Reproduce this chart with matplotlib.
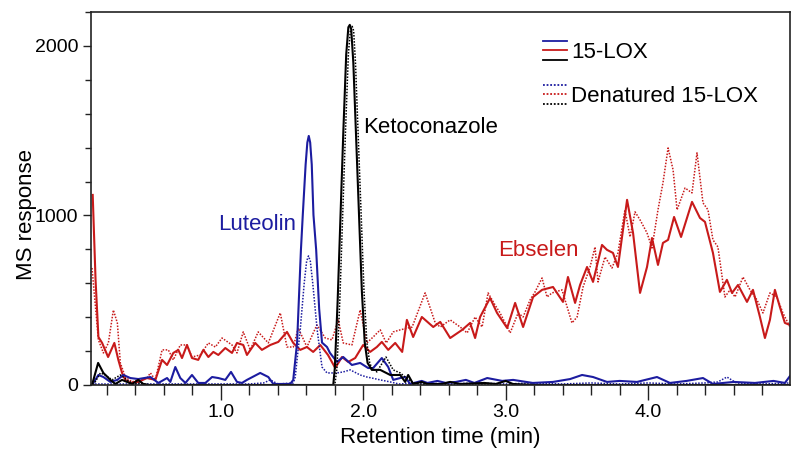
import matplotlib
matplotlib.use("Agg")
import matplotlib.pyplot as plt
from matplotlib.legend_handler import HandlerBase
from matplotlib.lines import Line2D
from matplotlib.ticker import MultipleLocator, FormatStrFormatter

plt.rcParams['font.family'] = ['Liberation Sans', 'DejaVu Sans']

# retention time (min) / MS response
lox_ebselen_t = [0.10, 0.12, 0.14, 0.166, 0.208, 0.252, 0.28, 0.306, 0.329, 0.364, 0.42, 0.481, 0.54, 0.587,
                 0.622, 0.666, 0.701, 0.727, 0.762, 0.797, 0.841, 0.877, 0.912, 0.947, 0.982, 1.031, 1.078,
                 1.113, 1.157, 1.183, 1.241, 1.288, 1.347, 1.403, 1.464, 1.508, 1.557, 1.604, 1.648, 1.698,
                 1.752, 1.803, 1.85, 1.894, 1.943, 1.999, 2.048, 2.095, 2.13, 2.175, 2.224, 2.273, 2.306,
                 2.35, 2.411, 2.491, 2.54, 2.61, 2.694, 2.75, 2.785, 2.82, 2.89, 2.939, 3.01, 3.066, 3.122,
                 3.192, 3.255, 3.332, 3.402, 3.437, 3.487, 3.522, 3.571, 3.613, 3.676, 3.711, 3.753, 3.788,
                 3.852, 3.894, 3.943, 3.992, 4.027, 4.069, 4.104, 4.14, 4.182, 4.231, 4.308, 4.364, 4.399,
                 4.455, 4.504, 4.553, 4.589, 4.631, 4.694, 4.736, 4.785, 4.82, 4.855, 4.89, 4.925, 4.96, 4.996]
lox_ebselen_v = [1121, 620, 283, 248, 165, 248, 148, 71, 30, 12, 18, 41, 30, 148, 118, 189, 207, 159, 236, 159,
                 148, 207, 165, 195, 177, 218, 189, 248, 236, 177, 248, 207, 236, 254, 313, 248, 207, 224, 195,
                 236, 177, 100, 165, 136, 159, 236, 195, 224, 254, 207, 248, 195, 384, 283, 401, 342, 372, 277,
                 325, 366, 277, 401, 513, 425, 336, 484, 342, 519, 561, 578, 490, 637, 484, 590, 696, 608, 826,
                 797, 779, 696, 1092, 897, 543, 696, 867, 708, 838, 856, 991, 873, 1080, 985, 962, 779, 549,
                 620, 543, 590, 490, 561, 401, 277, 384, 561, 460, 366, 354]

denat_ebselen_t = [0.095, 0.14, 0.175, 0.21, 0.245, 0.273, 0.294, 0.329, 0.376, 0.42, 0.481, 0.505, 0.54, 0.587,
                   0.631, 0.666, 0.715, 0.762, 0.797, 0.855, 0.912, 0.961, 1.008, 1.078, 1.113, 1.157, 1.206,
                   1.262, 1.333, 1.417, 1.464, 1.508, 1.543, 1.604, 1.674, 1.733, 1.78, 1.824, 1.859, 1.92,
                   1.978, 2.025, 2.069, 2.119, 2.161, 2.21, 2.259, 2.343, 2.434, 2.505, 2.54, 2.61, 2.68, 2.729,
                   2.785, 2.834, 2.876, 2.925, 2.96, 2.996, 3.031, 3.087, 3.122, 3.171, 3.206, 3.255, 3.29,
                   3.325, 3.395, 3.465, 3.501, 3.543, 3.592, 3.627, 3.648, 3.697, 3.746, 3.788, 3.837, 3.873,
                   3.908, 3.943, 3.992, 4.027, 4.069, 4.104, 4.14, 4.175, 4.203, 4.259, 4.308, 4.343, 4.385,
                   4.42, 4.455, 4.49, 4.539, 4.575, 4.61, 4.666, 4.715, 4.764, 4.806, 4.855, 4.904, 4.946, 4.996]
denat_ebselen_v = [690, 266, 189, 248, 442, 366, 130, 47, 18, 30, 41, 71, 30, 207, 207, 148, 236, 236, 165, 177,
                   248, 224, 277, 236, 189, 313, 207, 313, 248, 425, 224, 224, 336, 224, 354, 277, 266, 384, 248,
                   236, 443, 248, 283, 325, 248, 313, 325, 342, 543, 366, 342, 384, 342, 307, 401, 342, 543, 472,
                   425, 366, 307, 425, 401, 502, 549, 631, 519, 543, 561, 366, 401, 578, 696, 814, 608, 755, 690,
                   779, 1033, 873, 1021, 974, 897, 808, 1033, 1192, 1398, 1269, 1033, 1162, 1133, 1369, 1074,
                   1033, 856, 814, 519, 561, 519, 637, 561, 502, 425, 543, 519, 425, 342]

lox_luteolin_t = [0.095, 0.14, 0.175, 0.224, 0.273, 0.315, 0.364, 0.42, 0.505, 0.561, 0.622, 0.645, 0.68, 0.715,
                  0.751, 0.797, 0.841, 0.891, 0.938, 0.982, 1.031, 1.071, 1.113, 1.148, 1.183, 1.276, 1.333,
                  1.368, 1.487, 1.508, 1.535, 1.562, 1.575, 1.595, 1.607, 1.617, 1.627, 1.638, 1.65, 1.669,
                  1.69, 1.71, 1.745, 1.766, 1.815, 1.859, 1.92, 1.978, 2.034, 2.069, 2.13, 2.175, 2.21, 2.259,
                  2.294, 2.329, 2.41, 2.45, 2.52, 2.58, 2.65, 2.72, 2.78, 2.87, 2.975, 3.052, 3.19, 3.332,
                  3.452, 3.536, 3.613, 3.711, 3.8, 3.922, 4.062, 4.153, 4.27, 4.385, 4.455, 4.6, 4.75, 4.88,
                  4.96, 4.996]
lox_luteolin_v = [0, 59, 47, 18, 30, 59, 41, 35, 47, 12, 41, 18, 106, 41, 12, 59, 12, 12, 47, 41, 30, 77, 18, 12,
                  30, 71, 47, 6, 6, 30, 250, 797, 1003, 1300, 1430, 1469, 1430, 1300, 1003, 797, 450, 250, 224,
                  189, 136, 165, 118, 130, 100, 100, 159, 106, 30, 41, 47, 6, 24, 12, 24, 12, 18, 30, 12, 41,
                  24, 30, 12, 18, 35, 59, 47, 18, 24, 18, 47, 12, 24, 41, 6, 18, 12, 24, 12, 53]

denat_luteolin_t = [0.095, 0.3, 0.6, 0.9, 1.2, 1.3, 1.347, 1.4, 1.508, 1.522, 1.557, 1.585, 1.602, 1.615, 1.628,
                    1.645, 1.676, 1.71, 1.745, 1.78, 1.815, 1.859, 1.908, 1.978, 2.025, 2.06, 2.119, 2.189, 2.25,
                    2.4, 2.6, 2.8, 3.0, 3.2, 3.4, 3.6, 3.8, 4.0, 4.2, 4.4, 4.49, 4.553, 4.62, 4.8, 4.996]
denat_luteolin_v = [6, 6, 6, 6, 6, 12, 30, 6, 12, 47, 325, 600, 730, 761, 730, 600, 325, 106, 71, 71, 71, 77, 89,
                    59, 47, 41, 30, 18, 6, 12, 6, 12, 6, 12, 6, 12, 6, 12, 6, 12, 18, 47, 12, 6, 12]

lox_keto_t = [0.095, 0.138, 0.175, 0.224, 0.259, 0.306, 0.341, 0.376, 0.42, 0.455, 0.5, 1.75, 1.789, 1.80, 1.82,
              1.84, 1.86, 1.88, 1.895, 1.905, 1.915, 1.93, 1.95, 1.97, 1.99, 2.01, 2.03, 2.06, 2.119, 2.189,
              2.259, 2.294, 2.315, 2.35, 2.41, 2.45, 2.55, 2.61, 2.68, 2.85, 2.93, 3.0, 3.05, 3.2, 3.6, 4.0,
              4.4, 4.996]
lox_keto_v = [0, 130, 71, 30, 6, 30, 18, 6, 30, 6, 0, 0, 0, 100, 500, 1000, 1500, 1950, 2110, 2124, 2100, 1900,
              1450, 1000, 550, 250, 130, 89, 89, 59, 59, 18, 59, 6, 18, 6, 6, 18, 6, 12, 6, 24, 6, 0, 0, 0, 0, 0]

denat_keto_t = [0.105, 0.154, 0.189, 0.236, 0.294, 0.341, 0.385, 0.434, 0.48, 1.76, 1.80, 1.815, 1.835, 1.855,
                1.875, 1.895, 1.91, 1.922, 1.932, 1.945, 1.965, 1.985, 2.005, 2.025, 2.045, 2.06, 2.095, 2.159,
                2.21, 2.259, 2.294, 2.343, 2.385, 2.5, 3.0, 3.5, 4.0, 4.5, 4.996]
denat_keto_v = [0, 71, 59, 30, 59, 30, 6, 12, 0, 0, 0, 100, 500, 1000, 1500, 1950, 2100, 2115, 2090, 1900, 1450,
                1000, 550, 250, 130, 100, 77, 165, 89, 71, 47, 18, 6, 0, 0, 0, 0, 0, 0]

BLUE = '#1c1ca0'
RED = '#c81a1a'
BLACK = '#000000'
DOTS = (0, (1, 1))


class StackedLines(HandlerBase):
    # three short lines on top of each other, one per compound colour
    def __init__(self, colors, linestyle):
        super().__init__()
        self.colors = colors
        self.linestyle = linestyle

    def create_artists(self, legend, orig_handle, xdescent, ydescent, width, height, fontsize, trans):
        arts = []
        n = len(self.colors)
        for i, c in enumerate(self.colors):
            y = -ydescent + height * (1 - i / (n - 1))
            arts.append(Line2D([-xdescent, width - xdescent], [y, y], color=c, lw=1.3,
                               ls=self.linestyle, transform=trans))
        return arts


fig = plt.figure(figsize=(8, 4.61), dpi=100)
ax = fig.add_axes([0.11375, 0.1649, 0.87375, 0.8091])

ax.plot(denat_ebselen_t, denat_ebselen_v, color=RED, lw=1.1, ls=DOTS)
ax.plot(lox_ebselen_t, lox_ebselen_v, color=RED, lw=1.5)
ax.plot(denat_luteolin_t, denat_luteolin_v, color=BLUE, lw=1.1, ls=DOTS)
ax.plot(lox_luteolin_t, lox_luteolin_v, color=BLUE, lw=1.5)
ax.plot(denat_keto_t, denat_keto_v, color=BLACK, lw=1.1, ls=DOTS)
ax.plot(lox_keto_t, lox_keto_v, color=BLACK, lw=1.5)

ax.set_xlim(0.088, 4.996)
ax.set_ylim(0, 2200)
ax.set_xticks([1, 2, 3, 4])
ax.xaxis.set_major_formatter(FormatStrFormatter('%.1f'))
ax.xaxis.set_minor_locator(MultipleLocator(0.2))
ax.set_yticks([0, 1000, 2000])
ax.yaxis.set_minor_locator(MultipleLocator(200))

for s in ax.spines.values():
    s.set_linewidth(1.2)
    s.set_color('#222222')
ax.tick_params(axis='x', which='major', length=11, width=1, labelsize=14, pad=3, color='#222222')
ax.tick_params(axis='x', which='minor', length=7, width=1, color='#222222')
ax.tick_params(axis='y', which='major', length=6, width=1, labelsize=14, pad=3, color='#222222')
ax.tick_params(axis='y', which='minor', length=4.5, width=1, color='#222222')

ax.set_xlabel('Retention time (min)', fontsize=16, labelpad=4)
ax.set_ylabel('MS response', fontsize=16)
ax.yaxis.set_label_coords(-0.077, 0.456)

ax.text(0.982, 945, 'Luteolin', color=BLUE, fontsize=16, ha='left', va='center')
ax.text(2.0, 1520, 'Ketoconazole', color=BLACK, fontsize=16, ha='left', va='center')
ax.text(2.946, 792, 'Ebselen', color=RED, fontsize=16, ha='left', va='center')

h1 = Line2D([], [])
h2 = Line2D([], [])
ax.legend([h1, h2], ['15-LOX', 'Denatured 15-LOX'],
          handler_map={h1: StackedLines([BLUE, RED, BLACK], '-'),
                       h2: StackedLines([BLUE, RED, BLACK], DOTS)},
          loc='upper left', bbox_to_anchor=(0.6466, 0.922), frameon=False, fontsize=16,
          handlelength=1.1, handleheight=0.9, handletextpad=0.15, labelspacing=1.0,
          borderpad=0, borderaxespad=0)

fig.savefig('out.png', dpi=100)
